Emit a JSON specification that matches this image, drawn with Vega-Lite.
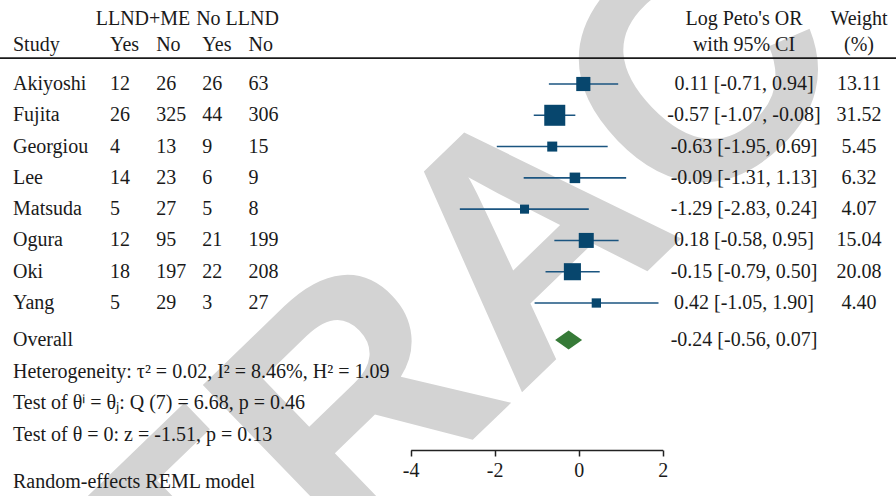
{
  "$schema": "https://vega.github.io/schema/vega-lite/v6.json",
  "width": 896,
  "height": 450,
  "autosize": {"type": "none"},
  "padding": {"left": 0, "top": 0, "right": 0, "bottom": 46},
  "background": "white",
  "config": {
    "view": {"stroke": null},
    "text": {"font": "Liberation Serif", "fontSize": 20, "color": "#1a1a1a", "baseline": "middle", "align": "left"}
  },
  "datasets": {
    "studies": [
      {"study": "Akiyoshi", "e_yes": 12, "e_no": 26, "c_yes": 26, "c_no": 63, "est": 0.11, "lo": -0.71, "hi": 0.94, "ci": "0.11 [-0.71, 0.94]", "weight": 13.11},
      {"study": "Fujita", "e_yes": 26, "e_no": 325, "c_yes": 44, "c_no": 306, "est": -0.57, "lo": -1.07, "hi": -0.08, "ci": "-0.57 [-1.07, -0.08]", "weight": 31.52},
      {"study": "Georgiou", "e_yes": 4, "e_no": 13, "c_yes": 9, "c_no": 15, "est": -0.63, "lo": -1.95, "hi": 0.69, "ci": "-0.63 [-1.95, 0.69]", "weight": 5.45},
      {"study": "Lee", "e_yes": 14, "e_no": 23, "c_yes": 6, "c_no": 9, "est": -0.09, "lo": -1.31, "hi": 1.13, "ci": "-0.09 [-1.31, 1.13]", "weight": 6.32},
      {"study": "Matsuda", "e_yes": 5, "e_no": 27, "c_yes": 5, "c_no": 8, "est": -1.29, "lo": -2.83, "hi": 0.24, "ci": "-1.29 [-2.83, 0.24]", "weight": 4.07},
      {"study": "Ogura", "e_yes": 12, "e_no": 95, "c_yes": 21, "c_no": 199, "est": 0.18, "lo": -0.58, "hi": 0.95, "ci": "0.18 [-0.58, 0.95]", "weight": 15.04},
      {"study": "Oki", "e_yes": 18, "e_no": 197, "c_yes": 22, "c_no": 208, "est": -0.15, "lo": -0.79, "hi": 0.50, "ci": "-0.15 [-0.79, 0.50]", "weight": 20.08},
      {"study": "Yang", "e_yes": 5, "e_no": 29, "c_yes": 3, "c_no": 27, "est": 0.42, "lo": -1.05, "hi": 1.90, "ci": "0.42 [-1.05, 1.90]", "weight": 4.40}
    ],
    "overall": [{"label": "Overall", "row": "Overall", "est": -0.24, "lo": -0.56, "hi": 0.07, "ci": "-0.24 [-0.56, 0.07]"}],
    "footer": [
      {"line": "Het", "text": "Heterogeneity: τ² = 0.02, I² = 8.46%, H² = 1.09"},
      {"line": "Q", "text": "Test of θⁱ = θⱼ: Q (7) = 6.68, p = 0.46"},
      {"line": "Z", "text": "Test of θ = 0: z = -1.51, p = 0.13"},
      {"line": "Random", "text": "Random-effects REML model"}
    ],
    "countHeaders": [
      {"col": "e_yes", "t": "Yes"}, {"col": "e_no", "t": "No"},
      {"col": "c_yes", "t": "Yes"}, {"col": "c_no", "t": "No"}
    ],
    "groupHeaders": [{"g": "LLND+ME"}, {"g": "No LLND"}],
    "rightHeaders": [
      {"col": "or", "r": "h1", "t": "Log Peto's OR"},
      {"col": "or", "r": "h2", "t": "with 95% CI"},
      {"col": "w", "r": "h1", "t": "Weight"},
      {"col": "w", "r": "h2", "t": "(%)"}
    ],
    "leftHeader": [{"t": "Study", "r": "h2"}],
    "banner": [{"t": "RETRACTED"}],
    "ruleRow": [{"r": "rule"}]
  },
  "resolve": {"scale": {"x": "independent", "y": "independent", "size": "independent"}},
  "layer": [
    {
      "data": {"name": "banner"},
      "mark": {"type": "text", "font": "Liberation Sans", "fontWeight": "bold", "fontSize": 330, "angle": -44, "align": "center", "baseline": "middle", "color": "#d3d3d3", "dy": 5},
      "encoding": {
        "x": {"datum": -1.17, "type": "quantitative", "scale": {"domain": [-4, 2], "range": [410.7, 662.7], "nice": false, "zero": false}, "axis": null},
        "y": {"datum": "Ogura", "type": "nominal", "scale": {"type": "point", "domain": ["Akiyoshi", "Fujita", "Georgiou", "Lee", "Matsuda", "Ogura", "Oki", "Yang"], "range": [84, 303], "padding": 0}, "axis": null},
        "text": {"field": "t"}
      }
    },
    {
      "data": {"name": "ruleRow"},
      "mark": {"type": "rule", "color": "#1a1a1a", "strokeWidth": 1.6},
      "encoding": {
        "y": {"field": "r", "type": "nominal", "scale": {"type": "point", "domain": ["h1", "_a", "h2", "rule"], "range": [18.5, 58.1], "padding": 0}, "axis": null}
      }
    },
    {
      "data": {"name": "studies"},
      "mark": {"type": "rule", "color": "#1b5580", "strokeWidth": 1.6},
      "encoding": {
        "x": {"field": "lo", "type": "quantitative", "scale": {"domain": [-4, 2], "range": [410.7, 662.7], "nice": false, "zero": false}, "axis": null},
        "x2": {"field": "hi"},
        "y": {"field": "study", "type": "nominal", "scale": {"type": "point", "domain": ["Akiyoshi", "Fujita", "Georgiou", "Lee", "Matsuda", "Ogura", "Oki", "Yang"], "range": [84, 303], "padding": 0}, "axis": null}
      }
    },
    {
      "data": {"name": "studies"},
      "mark": {"type": "point", "shape": "square", "filled": true, "color": "#07466d", "opacity": 1, "strokeWidth": 0},
      "encoding": {
        "x": {
          "field": "est", "type": "quantitative",
          "scale": {"domain": [-4, 2], "range": [410.7, 662.7], "nice": false, "zero": false},
          "axis": {"orient": "bottom", "values": [-4, -2, 0, 2], "title": null, "grid": false, "domainColor": "#222222", "domainWidth": 1.5, "tickColor": "#222222", "tickWidth": 1.5, "tickSize": 6, "labelFont": "Liberation Serif", "labelFontSize": 20, "labelColor": "#1a1a1a", "labelPadding": 4, "labelFlush": false, "labelExpr": "'' + datum.value"}
        },
        "y": {"field": "study", "type": "nominal", "scale": {"type": "point", "domain": ["Akiyoshi", "Fujita", "Georgiou", "Lee", "Matsuda", "Ogura", "Oki", "Yang"], "range": [84, 303], "padding": 0}, "axis": null},
        "size": {"field": "weight", "type": "quantitative", "scale": {"domain": [4, 31.5], "range": [81, 441], "zero": false}, "legend": null}
      }
    },
    {
      "data": {"name": "overall"},
      "mark": {"type": "point", "shape": "M-1,0L0,-0.7L1,0L0,0.7Z", "filled": true, "color": "#367a37", "opacity": 1, "size": 729, "strokeWidth": 0},
      "encoding": {
        "x": {"field": "est", "type": "quantitative", "scale": {"domain": [-4, 2], "range": [410.7, 662.7], "nice": false, "zero": false}, "axis": null},
        "y": {"field": "row", "type": "nominal", "scale": {"type": "point", "domain": ["Overall", "_1", "Het", "_2", "Q", "_3", "Z", "_4", "_5", "Random"], "range": [340, 482], "padding": 0}, "axis": null}
      }
    },
    {
      "data": {"name": "studies"},
      "mark": {"type": "text"},
      "encoding": {
        "x": {"datum": "left", "type": "nominal", "scale": {"type": "point", "domain": ["left"], "range": [13, 13], "padding": 0}, "axis": null},
        "y": {"field": "study", "type": "nominal", "scale": {"type": "point", "domain": ["Akiyoshi", "Fujita", "Georgiou", "Lee", "Matsuda", "Ogura", "Oki", "Yang"], "range": [84, 303], "padding": 0}, "axis": null},
        "text": {"field": "study"}
      }
    },
    {
      "data": {"name": "studies"},
      "transform": [{"fold": ["e_yes", "e_no", "c_yes", "c_no"], "as": ["key", "value"]}],
      "mark": {"type": "text"},
      "encoding": {
        "x": {"field": "key", "type": "nominal", "scale": {"type": "point", "domain": ["e_yes", "e_no", "c_yes", "c_no"], "range": [110, 248.5], "padding": 0}, "axis": null},
        "y": {"field": "study", "type": "nominal", "scale": {"type": "point", "domain": ["Akiyoshi", "Fujita", "Georgiou", "Lee", "Matsuda", "Ogura", "Oki", "Yang"], "range": [84, 303], "padding": 0}, "axis": null},
        "text": {"field": "value", "type": "quantitative"}
      }
    },
    {
      "data": {"name": "studies"},
      "mark": {"type": "text", "align": "center"},
      "encoding": {
        "x": {"datum": "or", "type": "nominal", "scale": {"type": "point", "domain": ["or", "w"], "range": [744, 859], "padding": 0}, "axis": null},
        "y": {"field": "study", "type": "nominal", "scale": {"type": "point", "domain": ["Akiyoshi", "Fujita", "Georgiou", "Lee", "Matsuda", "Ogura", "Oki", "Yang"], "range": [84, 303], "padding": 0}, "axis": null},
        "text": {"field": "ci"}
      }
    },
    {
      "data": {"name": "studies"},
      "mark": {"type": "text", "align": "center"},
      "encoding": {
        "x": {"datum": "w", "type": "nominal", "scale": {"type": "point", "domain": ["or", "w"], "range": [744, 859], "padding": 0}, "axis": null},
        "y": {"field": "study", "type": "nominal", "scale": {"type": "point", "domain": ["Akiyoshi", "Fujita", "Georgiou", "Lee", "Matsuda", "Ogura", "Oki", "Yang"], "range": [84, 303], "padding": 0}, "axis": null},
        "text": {"field": "weight", "type": "quantitative", "format": ".2f"}
      }
    },
    {
      "data": {"name": "overall"},
      "mark": {"type": "text"},
      "encoding": {
        "x": {"datum": "left", "type": "nominal", "scale": {"type": "point", "domain": ["left"], "range": [13, 13], "padding": 0}, "axis": null},
        "y": {"field": "row", "type": "nominal", "scale": {"type": "point", "domain": ["Overall", "_1", "Het", "_2", "Q", "_3", "Z", "_4", "_5", "Random"], "range": [340, 482], "padding": 0}, "axis": null},
        "text": {"field": "label"}
      }
    },
    {
      "data": {"name": "overall"},
      "mark": {"type": "text", "align": "center"},
      "encoding": {
        "x": {"datum": "or", "type": "nominal", "scale": {"type": "point", "domain": ["or", "w"], "range": [744, 859], "padding": 0}, "axis": null},
        "y": {"field": "row", "type": "nominal", "scale": {"type": "point", "domain": ["Overall", "_1", "Het", "_2", "Q", "_3", "Z", "_4", "_5", "Random"], "range": [340, 482], "padding": 0}, "axis": null},
        "text": {"field": "ci"}
      }
    },
    {
      "data": {"name": "footer"},
      "mark": {"type": "text"},
      "encoding": {
        "x": {"datum": "left", "type": "nominal", "scale": {"type": "point", "domain": ["left"], "range": [13, 13], "padding": 0}, "axis": null},
        "y": {"field": "line", "type": "nominal", "scale": {"type": "point", "domain": ["Overall", "_1", "Het", "_2", "Q", "_3", "Z", "_4", "_5", "Random"], "range": [340, 482], "padding": 0}, "axis": null},
        "text": {"field": "text"}
      }
    },
    {
      "data": {"name": "leftHeader"},
      "mark": {"type": "text"},
      "encoding": {
        "x": {"datum": "left", "type": "nominal", "scale": {"type": "point", "domain": ["left"], "range": [13, 13], "padding": 0}, "axis": null},
        "y": {"field": "r", "type": "nominal", "scale": {"type": "point", "domain": ["h1", "_a", "h2", "rule"], "range": [18.5, 58.1], "padding": 0}, "axis": null},
        "text": {"field": "t"}
      }
    },
    {
      "data": {"name": "countHeaders"},
      "mark": {"type": "text"},
      "encoding": {
        "x": {"field": "col", "type": "nominal", "scale": {"type": "point", "domain": ["e_yes", "e_no", "c_yes", "c_no"], "range": [110, 248.5], "padding": 0}, "axis": null},
        "y": {"datum": "h2", "type": "nominal", "scale": {"type": "point", "domain": ["h1", "_a", "h2", "rule"], "range": [18.5, 58.1], "padding": 0}, "axis": null},
        "text": {"field": "t"}
      }
    },
    {
      "data": {"name": "groupHeaders"},
      "mark": {"type": "text", "align": "center"},
      "encoding": {
        "x": {"field": "g", "type": "nominal", "scale": {"type": "point", "domain": ["LLND+ME", "No LLND"], "range": [143, 237.5], "padding": 0}, "axis": null},
        "y": {"datum": "h1", "type": "nominal", "scale": {"type": "point", "domain": ["h1", "_a", "h2", "rule"], "range": [18.5, 58.1], "padding": 0}, "axis": null},
        "text": {"field": "g"}
      }
    },
    {
      "data": {"name": "rightHeaders"},
      "mark": {"type": "text", "align": "center"},
      "encoding": {
        "x": {"field": "col", "type": "nominal", "scale": {"type": "point", "domain": ["or", "w"], "range": [744, 859], "padding": 0}, "axis": null},
        "y": {"field": "r", "type": "nominal", "scale": {"type": "point", "domain": ["h1", "_a", "h2", "rule"], "range": [18.5, 58.1], "padding": 0}, "axis": null},
        "text": {"field": "t"}
      }
    }
  ]
}
